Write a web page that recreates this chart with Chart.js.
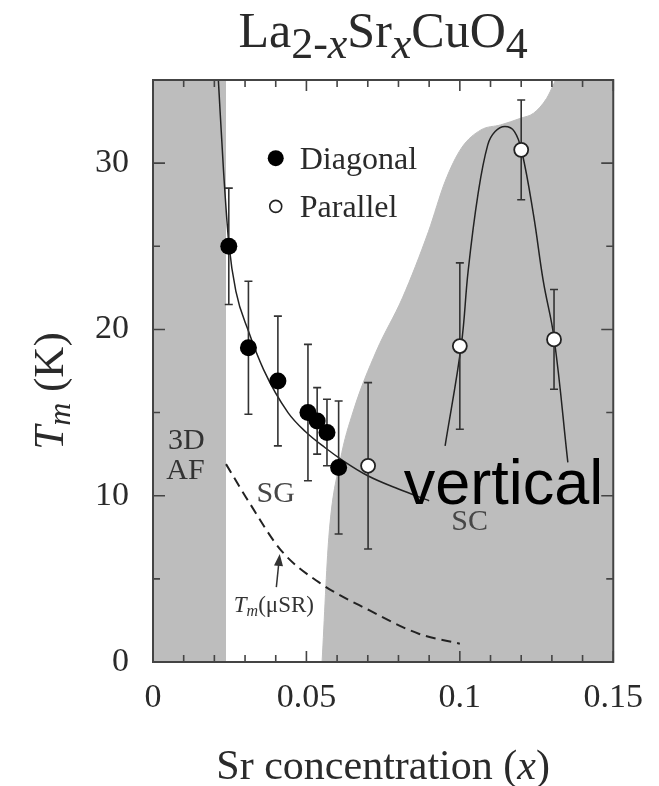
<!DOCTYPE html>
<html>
<head>
<meta charset="utf-8">
<script src="https://cdn.jsdelivr.net/npm/chart.js@4.4.0/dist/chart.umd.min.js"></script>
<style>
 html, body { margin: 0; padding: 0; background: #fff; }
 #wrap { width: 659px; height: 786px; }
</style>
</head>
<body>
<div id="wrap"><canvas id="chart" width="659" height="786"></canvas></div>
<script>
// axis ticks
const xTicks = [0, 0.05, 0.1, 0.15];
const xTickLabels = ['0', '0.05', '0.1', '0.15'];
const yTicks = [0, 10, 20, 30];
const yTickLabels = ['0', '10', '20', '30'];

// diagonal incommensurate peaks (filled)
const diagX = [0.0247, 0.0311, 0.0407, 0.0505, 0.0535, 0.0567, 0.0605];
const diagY = [25.0, 18.9, 16.9, 15.0, 14.5, 13.8, 11.7];
const diagErr = [3.5, 4.0, 3.9, 4.1, 2.0, 2.0, 4.0];

// parallel incommensurate peaks (open)
const parX = [0.0701, 0.1000, 0.1200, 0.1307];
const parY = [11.8, 19.0, 30.8, 19.4];
const parErr = [5.0, 5.0, 3.0, 3.0];

// guide-to-the-eye curves
const diagFitX = [0.0213, 0.0230, 0.0247, 0.0270, 0.0311, 0.0360, 0.0440, 0.0500, 0.0560, 0.0620, 0.0700, 0.0800, 0.0900];
const diagFitY = [35.0, 29.5, 25.2, 22.3, 19.9, 17.6, 15.0, 13.8, 12.9, 12.1, 11.2, 10.4, 9.7];
const parFitX = [0.0952, 0.1005, 0.1027, 0.1059, 0.1091, 0.1115, 0.1147, 0.1178, 0.1202, 0.1240, 0.1272, 0.1307, 0.1352];
const parFitY = [13.0, 19.1, 23.5, 28.1, 31.1, 31.9, 32.2, 31.9, 30.7, 26.9, 22.9, 19.5, 12.0];

// Tm from muSR (dashed)
const muX = [0.0238, 0.0310, 0.0418, 0.0540, 0.0706, 0.0866, 0.1000];
const muY = [11.9, 9.7, 6.7, 4.8, 3.1, 1.7, 1.1];

// phase regions: 3D AF block and SC dome edge
const afX = [0, 0.0238];
const afY = [35, 35];
const scX = [0.0551, 0.0573, 0.0610, 0.0653, 0.0728, 0.0813, 0.0898, 0.0952, 0.1005, 0.1069, 0.1133, 0.1198, 0.1240, 0.1283, 0.1307, 0.1312, 0.1500];
const scY = [0, 7.5, 12.1, 15.1, 18.7, 21.9, 25.9, 28.9, 30.9, 32.0, 32.3, 32.7, 33.0, 33.9, 34.8, 35, 35];

const SERIF = '"Liberation Serif", "Times New Roman", serif';
const SANS = '"Liberation Sans", Arial, sans-serif';
const GRAY = '#bdbdbd';
const INK = '#2a2a2a';

const pts = (xs, ys) => xs.map((x, i) => ({ x, y: ys[i] }));

function fontOf(r) {
 return `${r.italic ? 'italic ' : ''}${r.size}px ${r.family || SERIF}`;
}

// draw a row of text pieces (for sub/superscripts)
function drawRuns(ctx, runs, x, y, align) {
 ctx.textAlign = 'left';
 let w = 0;
 runs.forEach(r => { ctx.font = fontOf(r); r.w = ctx.measureText(r.t).width; w += r.w; });
 let cx = align === 'center' ? x - w / 2 : x;
 runs.forEach(r => { ctx.font = fontOf(r); ctx.fillText(r.t, cx, y + (r.dy || 0)); cx += r.w; });
}

function errorBars(chart, xs, ys, errs) {
 const { ctx } = chart;
 const sx = chart.scales.x, sy = chart.scales.y;
 ctx.save();
 ctx.strokeStyle = '#333';
 ctx.lineWidth = 1.6;
 xs.forEach((x, i) => {
 const px = sx.getPixelForValue(x);
 const lo = sy.getPixelForValue(ys[i] - errs[i]);
 const hi = sy.getPixelForValue(ys[i] + errs[i]);
 ctx.beginPath();
 ctx.moveTo(px, lo); ctx.lineTo(px, hi);
 ctx.moveTo(px - 4, lo); ctx.lineTo(px + 4, lo);
 ctx.moveTo(px - 4, hi); ctx.lineTo(px + 4, hi);
 ctx.stroke();
 });
 ctx.restore();
}

const decor = {
 id: 'decor',
 beforeDatasetDraw(chart, args) {
 if (chart.data.datasets[args.index].label !== 'Diagonal') return;
 errorBars(chart, diagX, diagY, diagErr);
 errorBars(chart, parX, parY, parErr);
 },
 afterDatasetsDraw(chart) {
 const { ctx } = chart;
 const sx = chart.scales.x, sy = chart.scales.y;
 const P = (x, y) => [sx.getPixelForValue(x), sy.getPixelForValue(y)];
 ctx.save();

 // legend inside the plot
 let [lx, ly] = P(0.040, 30.3);
 ctx.fillStyle = '#000';
 ctx.beginPath(); ctx.arc(lx, ly, 8, 0, Math.PI * 2); ctx.fill();
 ctx.fillStyle = INK;
 ctx.textBaseline = 'alphabetic';
 ctx.textAlign = 'left';
 ctx.font = `32px ${SERIF}`;
 ctx.fillText('Diagonal', lx + 24, ly + 11);
 [lx, ly] = P(0.040, 27.4);
 ctx.fillStyle = '#fff'; ctx.strokeStyle = '#222'; ctx.lineWidth = 1.6;
 ctx.beginPath(); ctx.arc(lx, ly, 6, 0, Math.PI * 2); ctx.fill(); ctx.stroke();
 ctx.fillStyle = INK;
 ctx.fillText('Parallel', lx + 24, ly + 11);

 // region labels
 ctx.textAlign = 'center';
 ctx.textBaseline = 'middle';
 ctx.font = `30px ${SERIF}`;
 ctx.fillStyle = '#333';
 let p = P(0.0109, 13.3); ctx.fillText('3D', p[0], p[1]);
 p = P(0.0106, 11.5); ctx.fillText('AF', p[0], p[1]);
 ctx.fillStyle = '#474747';
 p = P(0.0400, 10.1); ctx.fillText('SG', p[0], p[1]);
 p = P(0.1032, 8.4); ctx.fillText('SC', p[0], p[1]);

 // Tm(muSR) label and arrow
 ctx.textBaseline = 'alphabetic';
 ctx.fillStyle = '#333';
 p = P(0.0394, 3.0);
 drawRuns(ctx, [
 { t: 'T', size: 23, italic: true },
 { t: 'm', size: 16, italic: true, dy: 4 },
 { t: '(μSR)', size: 23 }
 ], p[0], p[1], 'center');
 const [ax0, ay0] = P(0.0402, 4.5);
 const [ax1, ay1] = P(0.0413, 6.5);
 const ang = Math.atan2(ay1 - ay0, ax1 - ax0);
 ctx.strokeStyle = '#333'; ctx.lineWidth = 1.5;
 ctx.beginPath(); ctx.moveTo(ax0, ay0); ctx.lineTo(ax1 - 8 * Math.cos(ang), ay1 - 8 * Math.sin(ang)); ctx.stroke();
 ctx.beginPath();
 ctx.moveTo(ax1, ay1);
 ctx.lineTo(ax1 - 12 * Math.cos(ang) + 4.5 * Math.sin(ang), ay1 - 12 * Math.sin(ang) - 4.5 * Math.cos(ang));
 ctx.lineTo(ax1 - 12 * Math.cos(ang) - 4.5 * Math.sin(ang), ay1 - 12 * Math.sin(ang) + 4.5 * Math.cos(ang));
 ctx.closePath(); ctx.fill();

 // overlay word
 ctx.fillStyle = '#000';
 ctx.textAlign = 'left';
 ctx.font = `63px ${SANS}`;
 p = P(0.0817, 9.5);
 ctx.fillText('vertical', p[0], p[1]);
 ctx.restore();
 },
 afterDraw(chart) {
 const { ctx, chartArea: a } = chart;
 const sx = chart.scales.x, sy = chart.scales.y;
 ctx.save();

 // frame
 ctx.strokeStyle = '#444';
 ctx.lineWidth = 2;
 ctx.strokeRect(a.left, a.top, a.right - a.left, a.bottom - a.top);

 // inward ticks on all four sides
 ctx.lineWidth = 1.6;
 ctx.beginPath();
 for (let i = 0; i <= 15; i++) {
 const px = sx.getPixelForValue(i * 0.01);
 const len = i % 5 === 0 ? 11 : 7;
 ctx.moveTo(px, a.bottom); ctx.lineTo(px, a.bottom - len);
 ctx.moveTo(px, a.top); ctx.lineTo(px, a.top + len);
 }
 for (let i = 0; i <= 7; i++) {
 const py = sy.getPixelForValue(i * 5);
 const len = i % 2 === 0 ? 12 : 7;
 ctx.moveTo(a.left, py); ctx.lineTo(a.left + len, py);
 ctx.moveTo(a.right, py); ctx.lineTo(a.right - len, py);
 }
 ctx.stroke();

 ctx.fillStyle = INK;
 ctx.textBaseline = 'alphabetic';
 const cx = (a.left + a.right) / 2;

 // chemical formula title
 drawRuns(ctx, [
 { t: 'La', size: 50 },
 { t: '2-', size: 44, dy: 11 },
 { t: 'x', size: 44, italic: true, dy: 11 },
 { t: 'Sr', size: 50 },
 { t: 'x', size: 44, italic: true, dy: 11 },
 { t: 'CuO', size: 50 },
 { t: '4', size: 44, dy: 11 }
 ], cx, 47, 'center');

 // x axis title
 drawRuns(ctx, [
 { t: 'Sr concentration (', size: 42 },
 { t: 'x', size: 42, italic: true },
 { t: ')', size: 42 }
 ], cx, 779, 'center');

 // y axis title
 ctx.translate(63, (a.top + a.bottom) / 2 + 20);
 ctx.rotate(-Math.PI / 2);
 drawRuns(ctx, [
 { t: 'T', size: 43, italic: true },
 { t: 'm', size: 32, italic: true, dy: 7 },
 { t: ' (K)', size: 43 }
 ], 0, 0, 'center');
 ctx.restore();
 }
};

new Chart(document.getElementById('chart'), {
 type: 'scatter',
 data: {
 datasets: [
 { label: 'AF', data: pts(afX, afY), showLine: true, fill: 'origin', backgroundColor: GRAY, borderColor: GRAY, borderWidth: 1, pointRadius: 0, order: 10 },
 { label: 'SC', data: pts(scX, scY), showLine: true, fill: 'origin', backgroundColor: GRAY, borderColor: GRAY, borderWidth: 1, pointRadius: 0, cubicInterpolationMode: 'monotone', order: 9 },
 { label: 'muSR', data: pts(muX, muY), showLine: true, fill: false, borderColor: '#222', borderWidth: 2, borderDash: [10, 6], pointRadius: 0, cubicInterpolationMode: 'monotone', order: 6 },
 { label: 'diagFit', data: pts(diagFitX, diagFitY), showLine: true, fill: false, borderColor: '#222', borderWidth: 1.5, pointRadius: 0, cubicInterpolationMode: 'monotone', order: 5 },
 { label: 'parFit', data: pts(parFitX, parFitY), showLine: true, fill: false, borderColor: '#222', borderWidth: 1.5, pointRadius: 0, tension: 0.4, order: 5 },
 { label: 'Diagonal', data: pts(diagX, diagY), pointRadius: 8.5, pointBackgroundColor: '#000', pointBorderColor: '#000', pointBorderWidth: 0, order: 2 },
 { label: 'Parallel', data: pts(parX, parY), pointRadius: 7, pointBackgroundColor: '#fff', pointBorderColor: '#222', pointBorderWidth: 1.8, order: 1 }
 ]
 },
 options: {
 responsive: false,
 animation: false,
 events: [],
 layout: { padding: { top: 80, right: 38, left: 0, bottom: 0 } },
 plugins: { legend: { display: false }, tooltip: { enabled: false } },
 scales: {
 x: {
 type: 'linear', min: 0, max: 0.15,
 afterBuildTicks: s => { s.ticks = xTicks.map(v => ({ value: v })); },
 afterFit: s => { s.height = 124; },
 grid: { display: false, drawTicks: false },
 border: { display: false },
 ticks: { autoSkip: false, maxRotation: 0, padding: 16, color: INK, font: { family: SERIF, size: 34 }, callback: (v, i) => xTickLabels[i] }
 },
 y: {
 type: 'linear', min: 0, max: 35,
 afterBuildTicks: s => { s.ticks = yTicks.map(v => ({ value: v })); },
 afterFit: s => { s.width = 153; },
 grid: { display: false, drawTicks: false },
 border: { display: false },
 ticks: { autoSkip: false, padding: 24, color: INK, font: { family: SERIF, size: 34 }, callback: (v, i) => yTickLabels[i] }
 }
 }
 },
 plugins: [decor]
});
</script>
</body>
</html>
